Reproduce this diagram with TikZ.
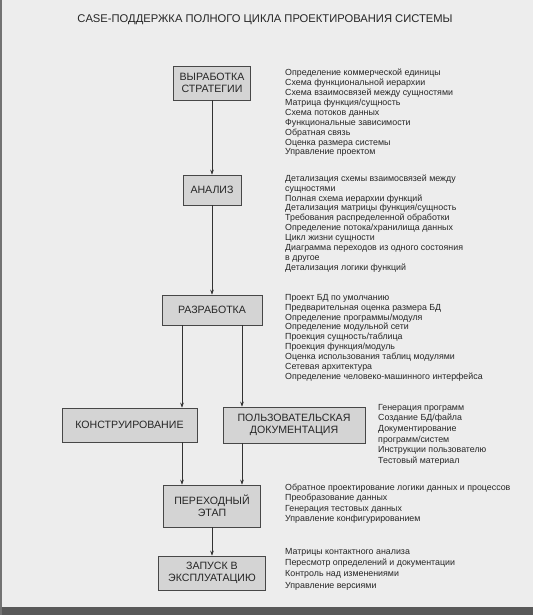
\documentclass[tikz,border=0pt]{standalone}
\usepackage{fontspec}
\setmainfont{Liberation Sans}
\usetikzlibrary{arrows.meta}

\begin{document}
\begin{tikzpicture}[
    x=1pt, y=-1pt,
    stage/.style={draw=black!72, fill=black!17, line width=0.7pt, align=center,
        inner sep=0pt, text=black!85, font=\fontsize{10.6}{11.6}\selectfont},
    notes/.style={anchor=north west, align=left, inner sep=0pt, text=black!85,
        font=\fontsize{8.85}{9.9}\selectfont},
    arr/.style={draw=black!80, line width=0.6pt, -{Stealth[length=5pt,width=3.6pt]}}
]
\fill[black!7] (0,0) rectangle (533,615);
\useasboundingbox (0,0) rectangle (533,615);
\fill[black!65] (0,607) rectangle (533,615);
\fill[black!55] (0,0) rectangle (1.5,615);

\node[font=\fontsize{11.2}{12}\selectfont, text=black!85] (title) at (265,20)
    {CASE-ПОДДЕРЖКА ПОЛНОГО ЦИКЛА ПРОЕКТИРОВАНИЯ СИСТЕМЫ};

% stages
\node[stage, minimum width=77pt, minimum height=34pt] (strat) at (212,83) {ВЫРАБОТКА\\СТРАТЕГИИ};
\node[stage, minimum width=58pt, minimum height=30pt] (anal) at (212,190) {АНАЛИЗ};
\node[stage, minimum width=100pt, minimum height=30pt] (razr) at (212,310) {РАЗРАБОТКА};
\node[stage, minimum width=135pt, minimum height=34pt] (konstr) at (129.5,425) {КОНСТРУИРОВАНИЕ};
\node[stage, minimum width=142pt, minimum height=36pt] (dok) at (294,425) {ПОЛЬЗОВАТЕЛЬСКАЯ\\ДОКУМЕНТАЦИЯ};
\node[stage, minimum width=97pt, minimum height=42pt] (perek) at (212,506) {ПЕРЕХОДНЫЙ\\ЭТАП};
\node[stage, minimum width=107pt, minimum height=34pt] (zapusk) at (212,573) {ЗАПУСК В\\ЭКСПЛУАТАЦИЮ};

% notes
\node[notes] (n1) at (285,69) {Определение коммерческой единицы\\Схема функциональной иерархии\\
    Схема взаимосвязей между сущностями\\Матрица функция/сущность\\Схема потоков данных\\
    Функциональные зависимости\\Обратная связь\\Оценка размера системы\\Управление проектом};
\node[notes] (n2) at (285,174.5) {Детализация схемы взаимосвязей между\\сущностями\\
    Полная схема иерархии функций\\Детализация матрицы функция/сущность\\
    Требования распределенной обработки\\Определение потока/хранилища данных\\
    Цикл жизни сущности\\Диаграмма переходов из одного состояния\\в другое\\
    Детализация логики функций};
\node[notes] (n3) at (285,294) {Проект БД по умолчанию\\Предварительная оценка размера БД\\
    Определение программы/модуля\\Определение модульной сети\\Проекция сущность/таблица\\
    Проекция функция/модуль\\Оценка использования таблиц модулями\\Сетевая архитектура\\
    Определение человеко-машинного интерфейса};
\node[notes, font=\fontsize{8.85}{10.6}\selectfont] (n4) at (378,404) {Генерация программ\\Создание БД/файла\\
    Документирование\\программ/систем\\Инструкции пользователю\\Тестовый материал};
\node[notes, font=\fontsize{8.85}{10.3}\selectfont] (n5) at (285,484) {Обратное проектирование логики данных и процессов\\
    Преобразование данных\\Генерация тестовых данных\\Управление конфигурированием};
\node[notes, font=\fontsize{8.85}{11.3}\selectfont] (n6) at (285,548) {Матрицы контактного анализа\\
    Пересмотр определений и документации\\Контроль над изменениями\\Управление версиями};

% connectors
\coordinate (lft) at (182,0);
\coordinate (rgt) at (242,0);
\draw[arr] (strat) -- (anal);
\draw[arr] (anal) -- (razr);
\draw[arr] (razr.south -| lft) -- (konstr.north -| lft);
\draw[arr] (razr.south -| rgt) -- (dok.north -| rgt);
\draw[arr] (konstr.south -| lft) -- (perek.north -| lft);
\draw[arr] (dok.south -| rgt) -- (perek.north -| rgt);
\draw[arr] (perek) -- (zapusk);
\end{tikzpicture}
\end{document}
